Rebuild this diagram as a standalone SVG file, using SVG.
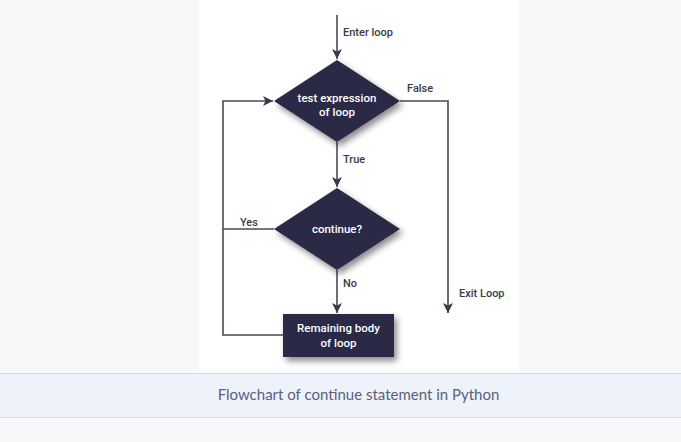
<svg xmlns="http://www.w3.org/2000/svg" width="681" height="442" viewBox="0 0 681 442">
<style>
.lbl{font-family:Roboto,"Liberation Sans",sans-serif;font-size:11px;font-weight:500;fill:#3a3a48}
.in{font-family:Roboto,"Liberation Sans",sans-serif;font-size:11.5px;font-weight:500;fill:#ffffff;text-anchor:middle}
.shape{fill:#2c2b46;filter:url(#sh)}
.ln{fill:none;stroke:#4a4a58;stroke-width:1.6}
.cap{font-family:Lato,"Liberation Sans",sans-serif;font-size:15px;fill:#5b5f7c;text-anchor:middle}
</style>
<defs>
<filter id="sh" x="-30%" y="-30%" width="160%" height="170%">
<feDropShadow dx="3" dy="4" stdDeviation="3" flood-color="#000" flood-opacity="0.45"/>
</filter>
<marker id="ah" viewBox="0 0 10 10" refX="10" refY="5" markerWidth="10" markerHeight="10" markerUnits="userSpaceOnUse" orient="auto">
<path d="M0,0 L10,5 L0,10 L2.5,5 Z" fill="#3a3a48"/>
</marker>
</defs>
<rect width="681" height="442" fill="#f7f8fa"/>
<rect x="199" y="0" width="320" height="373" fill="#ffffff"/>
<rect x="0" y="373" width="681" height="45" fill="#eef3fb"/>
<line x1="0" y1="373.5" x2="681" y2="373.5" stroke="#d5dce8"/>
<line x1="0" y1="417.5" x2="681" y2="417.5" stroke="#d5dce8"/>
<text class="cap" x="358.5" y="400">Flowchart of continue statement in Python</text>

<g id="connectors">
<path class="ln" d="M337,15 V59" marker-end="url(#ah)"/>
<path class="ln" d="M400,101 H448 V313" marker-end="url(#ah)"/>
<path class="ln" d="M337,142 V187" marker-end="url(#ah)"/>
<path class="ln" d="M337,270 V313" marker-end="url(#ah)"/>
<path class="ln" d="M274,229 H223"/>
<path class="ln" d="M283,335 H223 V101 H273" marker-end="url(#ah)"/>
<text class="lbl" x="343" y="36">Enter loop</text>
<text class="lbl" x="407" y="92">False</text>
<text class="lbl" x="343" y="163">True</text>
<text class="lbl" x="240" y="226">Yes</text>
<text class="lbl" x="343" y="287">No</text>
<text class="lbl" x="459" y="297">Exit Loop</text>
</g>

<g id="test">
<path class="shape" d="M337,60 L400,101 L337,142 L274,101 Z"/>
<text class="in" x="337" y="102">test expression</text>
<text class="in" x="337" y="116">of loop</text>
</g>
<g id="continue">
<path class="shape" d="M337,188 L400,229 L337,270 L274,229 Z"/>
<text class="in" x="337" y="233">continue?</text>
</g>
<g id="body">
<rect class="shape" x="283" y="314" width="111" height="43"/>
<text class="in" x="338.5" y="332">Remaining body</text>
<text class="in" x="338.5" y="347">of loop</text>
</g>
</svg>
